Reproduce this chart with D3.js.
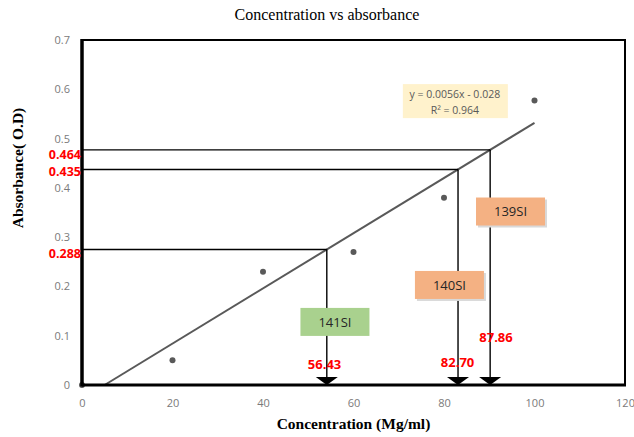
<!DOCTYPE html>
<html>
<head>
<meta charset="utf-8">
<script src="https://cdn.jsdelivr.net/npm/d3@7"></script>
<style>
  body { margin: 0; background: #fff; }
  svg { display: block; }
</style>
</head>
<body>
<div id="chart"></div>
<script>
// Concentration vs absorbance, with read-off lines for three samples

var concentration = [0, 20, 40, 60, 80, 100];
var absorbance = [0, 0.05, 0.23, 0.27, 0.38, 0.577];

var xTicks = [0, 20, 40, 60, 80, 100, 120];
var yTicks = [0, 0.1, 0.2, 0.3, 0.4, 0.5, 0.6, 0.7];

// trendline y = slope * x + intercept, drawn from its x-intercept to the last point
var slope = 0.0056;
var intercept = -0.028;
var trendRange = [5, 100];

// samples: where the drop lines meet the trendline (x) and the labels written on them
var sampleNames = ['141SI', '140SI', '139SI'];
var sampleX = [54.1, 83.1, 90.2];
var sampleYLabels = ['0.288', '0.435', '0.464'];
var sampleXLabels = ['56.43', '82.70', '87.86'];
var sampleColors = ['#a9d18e', '#f4b183', '#f4b183'];

// annotation placements, in data units
var boxCenters = [[55.9, 0.128], [81.2, 0.203], [94.7, 0.352]];
var xLabelCenters = [[53.6, 0.041], [83.0, 0.047], [91.5, 0.097]];
var yLabelShift = [4, 2, 5];
var eqCenter = [82.4, 0.576];

var o = {
    width: 634,
    height: 437,
    margin: {top: 40, right: 9, bottom: 52, left: 82}
};

var svg = d3.select('#chart')
    .append('svg')
    .attr('width', o.width)
    .attr('height', o.height);

var x = d3.scaleLinear()
    .domain([0, 120])
    .range([o.margin.left, o.width - o.margin.right]);

var y = d3.scaleLinear()
    .domain([0, 0.7])
    .range([o.height - o.margin.bottom, o.margin.top]);

var tickFont = "'Open Sans', sans-serif";

// axes (labels only)
var gx = svg.append('g')
    .attr('transform', 'translate(0,' + y(0) + ')')
    .call(d3.axisBottom(x).tickValues(xTicks).tickSize(0).tickPadding(14).tickFormat(d3.format('d')));
var gy = svg.append('g')
    .attr('transform', 'translate(' + x(0) + ',0)')
    .call(d3.axisLeft(y).tickValues(yTicks).tickSize(0).tickPadding(12).tickFormat(function(d) { return d === 0 ? '0' : d3.format('.1f')(d); }));
[gx, gy].forEach(function(g) {
    g.select('.domain').remove();
    g.selectAll('text')
        .attr('fill', '#7a7a7a')
        .style('font-family', tickFont)
        .style('font-size', '11px');
});

// trendline
svg.append('line')
    .attr('x1', x(trendRange[0]))
    .attr('y1', y(slope * trendRange[0] + intercept))
    .attr('x2', x(trendRange[1]))
    .attr('y2', y(slope * trendRange[1] + intercept))
    .attr('stroke', '#595959')
    .attr('stroke-width', 2);

// drop lines with arrows
sampleX.forEach(function(sx, i) {
    var sy = slope * sx + intercept;
    svg.append('line')
        .attr('x1', x(0)).attr('y1', y(sy))
        .attr('x2', x(sx)).attr('y2', y(sy))
        .attr('stroke', '#000').attr('stroke-width', 1.4);
    svg.append('line')
        .attr('x1', x(sx)).attr('y1', y(sy))
        .attr('x2', x(sx)).attr('y2', y(0) - 6)
        .attr('stroke', '#000').attr('stroke-width', 1.4);
    var ax = x(sx), ay = y(0);
    svg.append('path')
        .attr('d', 'M' + (ax - 11) + ',' + (ay - 8) + 'L' + (ax + 11) + ',' + (ay - 8) + 'L' + ax + ',' + ay + 'Z')
        .attr('fill', '#000');
});

// points
svg.selectAll('circle.pt')
    .data(concentration)
    .enter().append('circle')
    .attr('class', 'pt')
    .attr('cx', function(d) { return x(d); })
    .attr('cy', function(d, i) { return y(absorbance[i]); })
    .attr('r', 3)
    .attr('fill', '#595959');

// frame
var x0 = x(0), x1 = x(120), y0 = y(0), y1 = y(0.7);
svg.append('rect')
    .attr('x', x0).attr('y', y1)
    .attr('width', x1 - x0).attr('height', y0 - y1)
    .attr('fill', 'none').attr('stroke', '#000').attr('stroke-width', 2);
svg.append('line')
    .attr('x1', x0).attr('y1', y1 - 1).attr('x2', x0).attr('y2', y0 + 1.5)
    .attr('stroke', '#000').attr('stroke-width', 3.5);
svg.append('line')
    .attr('x1', x0).attr('y1', y0).attr('x2', x1 + 1).attr('y2', y0)
    .attr('stroke', '#000').attr('stroke-width', 3);

// sample boxes
var boxW = 69, boxH = 28;
sampleNames.forEach(function(name, i) {
    var cx = x(boxCenters[i][0]), cy = y(boxCenters[i][1]);
    if (i > 0) {
        svg.append('rect')
            .attr('x', cx - boxW / 2 + 2).attr('y', cy - boxH / 2 + 2)
            .attr('width', boxW).attr('height', boxH)
            .attr('fill', '#d9d9d9');
    }
    svg.append('rect')
        .attr('x', cx - boxW / 2).attr('y', cy - boxH / 2)
        .attr('width', boxW).attr('height', boxH)
        .attr('fill', sampleColors[i]);
    svg.append('text')
        .attr('x', cx).attr('y', cy)
        .attr('dy', '0.36em')
        .attr('text-anchor', 'middle')
        .attr('fill', '#262626')
        .style('font-family', tickFont)
        .style('font-size', '13px')
        .text(name);
});

// red read-off labels
sampleX.forEach(function(sx, i) {
    var sy = slope * sx + intercept;
    svg.append('text')
        .attr('x', x(0) - 1)
        .attr('y', y(sy) + yLabelShift[i])
        .attr('dy', '0.36em')
        .attr('text-anchor', 'end')
        .attr('fill', '#ff0000')
        .style('font-family', tickFont)
        .style('font-weight', 'bold')
        .style('font-size', '12.5px')
        .text(sampleYLabels[i]);
    svg.append('text')
        .attr('x', x(xLabelCenters[i][0]))
        .attr('y', y(xLabelCenters[i][1]))
        .attr('dy', '0.36em')
        .attr('text-anchor', 'middle')
        .attr('fill', '#ff0000')
        .style('font-family', tickFont)
        .style('font-weight', 'bold')
        .style('font-size', '13px')
        .text(sampleXLabels[i]);
});

// equation box
var ex = x(eqCenter[0]), ey = y(eqCenter[1]);
svg.append('rect')
    .attr('x', ex - 52).attr('y', ey - 17)
    .attr('width', 105).attr('height', 34)
    .attr('fill', '#fff2cc');
var eq = svg.append('text')
    .attr('text-anchor', 'middle')
    .attr('fill', '#595959')
    .style('font-family', tickFont)
    .style('font-size', '10.5px');
eq.append('tspan').attr('x', ex).attr('y', ey - 7).attr('dy', '0.36em')
    .text('y = ' + slope + 'x - ' + Math.abs(intercept));
eq.append('tspan').attr('x', ex).attr('y', ey + 9).attr('dy', '0.36em')
    .text('R² = 0.964');

// titles
svg.append('text')
    .attr('x', 327).attr('y', 20)
    .attr('text-anchor', 'middle')
    .style('font-family', "'Liberation Serif', 'Times New Roman', serif")
    .style('font-size', '16px')
    .text('Concentration vs absorbance');
svg.append('text')
    .attr('x', (x0 + x1) / 2).attr('y', 429)
    .attr('text-anchor', 'middle')
    .style('font-family', "'Liberation Serif', 'Times New Roman', serif")
    .style('font-weight', 'bold')
    .style('font-size', '15.5px')
    .text('Concentration (Mg/ml)');
svg.append('text')
    .attr('transform', 'translate(23,' + 168 + ') rotate(-90)')
    .attr('text-anchor', 'middle')
    .style('font-family', "'Liberation Serif', 'Times New Roman', serif")
    .style('font-weight', 'bold')
    .style('font-size', '15.5px')
    .text('Absorbance( O.D)');
</script>
</body>
</html>
